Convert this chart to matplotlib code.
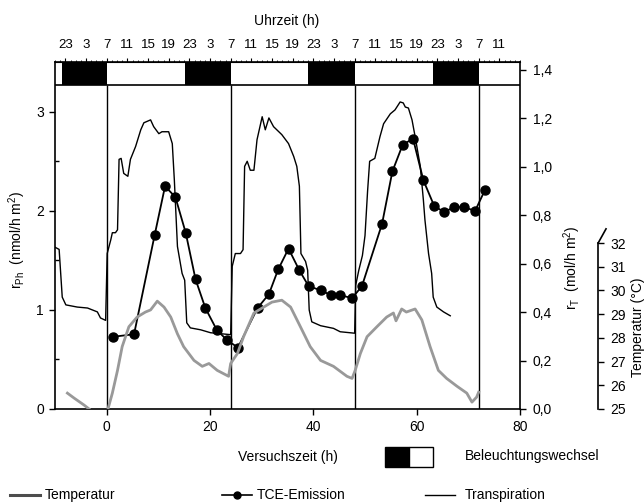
import matplotlib
matplotlib.use('Agg')
import matplotlib.pyplot as plt
import numpy as np
from matplotlib.lines import Line2D
from matplotlib.patches import Rectangle

plt.rcParams['font.family'] = ['Liberation Sans Narrow', 'Liberation Sans', 'DejaVu Sans']
plt.rcParams['mathtext.fontset'] = 'custom'
plt.rcParams['mathtext.rm'] = 'Liberation Sans'
plt.rcParams['mathtext.it'] = 'Liberation Sans:italic'
plt.rcParams['font.size'] = 10

# TCE-Emission r_Ph (nmol/h m2)
t_tce = [1.3, 5.3, 9.3, 11.3, 13.3, 15.3, 17.2, 19.1, 21.3, 23.2, 25.4, 29.2, 31.4, 33.2,
         35.2, 37.3, 39.1, 41.4, 43.4, 45.2, 47.5, 49.4, 53.3, 55.3, 57.3, 59.3, 61.3,
         63.4, 65.3, 67.3, 69.2, 71.3, 73.2]
r_ph = [0.73, 0.755, 1.76, 2.25, 2.14, 1.78, 1.31, 1.02, 0.80, 0.70, 0.62, 1.02, 1.16, 1.41,
        1.62, 1.40, 1.24, 1.20, 1.15, 1.15, 1.12, 1.24, 1.87, 2.40, 2.67, 2.73, 2.31,
        2.05, 1.99, 2.04, 2.04, 2.00, 2.21]

# Transpiration r_T (mol/h m2)
t_tr = [-9.9, -9.2, -8.6, -7.9, -5.7, -3.7, -1.8, -1.2, -0.2,
        0.1, 0.8, 1.1, 1.7, 2.1, 2.4, 2.8, 3.3, 4.1, 4.6, 5.6, 6.6, 7.2, 8.5, 9.1, 10.1,
        10.7, 12.0, 12.7, 13.1, 13.7, 14.6, 15.1, 15.5, 16.2, 18.2, 20.1, 24.0,
        24.3, 24.9, 25.9, 26.4, 26.7, 27.2, 27.8, 28.5, 29.1, 30.1, 30.7, 31.4, 32.3,
        33.9, 35.2, 36.2, 36.8, 37.3, 37.6, 38.5, 38.9, 39.2, 39.7, 41.4, 43.9, 45.2, 48.0,
        48.2, 48.8, 49.5, 50.0, 50.5, 50.9, 51.9, 52.9, 53.6, 54.9, 55.8, 56.8, 57.4,
        57.8, 58.4, 59.1, 59.7, 60.7, 61.3, 61.6, 62.3, 62.9, 63.2, 63.9, 65.2, 66.5]
r_t = [0.667, 0.659, 0.462, 0.430, 0.421, 0.417, 0.401, 0.376, 0.366,
       0.642, 0.699, 0.728, 0.728, 0.740, 1.031, 1.035, 0.973, 0.961, 1.031, 1.084, 1.153,
       1.182, 1.194, 1.166, 1.137, 1.145, 1.145, 1.096, 0.945, 0.671, 0.560, 0.532, 0.356,
       0.335, 0.327, 0.315, 0.307,
       0.589, 0.642, 0.642, 0.658, 1.002, 1.023, 0.986, 0.986, 1.112, 1.207, 1.153, 1.202,
       1.166, 1.133, 1.096, 1.043, 1.002, 0.920, 0.642, 0.609, 0.573, 0.409, 0.360, 0.344,
       0.333, 0.319, 0.313,
       0.511, 0.573, 0.634, 0.716, 0.900, 1.023, 1.035, 1.125, 1.178, 1.219, 1.235, 1.268,
       1.264, 1.247, 1.243, 1.194, 1.125, 1.002, 0.863, 0.781, 0.642, 0.560, 0.462, 0.421,
       0.401, 0.385]

# Temperatur (°C)
t_temp = [-7.6, -6.3, -4.4, -3.4, np.nan, 0.25, 1.1, 2.1, 3.0, 4.3, 5.9, 7.5, 8.5, 9.8,
          11.1, 12.4, 13.7, 14.9, 16.9, 18.5, 19.8, 21.4, 23.6, 24.0, 25.3, 26.5, 28.5,
          30.4, 32.0, 33.9, 35.6, 37.5, 39.4, 41.4, 43.9, 46.5, 47.5, 48.1, 49.1, 50.4,
          52.3, 54.2, 55.5, 56.0, 57.1, 58.0, 59.7, 61.0, 62.6, 64.2, 65.8, 67.8, 69.7,
          70.7, 71.6, 72.0]
temp = [25.67, 25.46, 25.17, 25.0, np.nan, 25.0, 25.67, 26.63, 27.63, 28.47, 28.88, 29.09,
        29.18, 29.55, 29.30, 28.88, 28.17, 27.63, 27.05, 26.80, 26.92, 26.63, 26.38, 26.92,
        27.34, 28.05, 29.05, 29.30, 29.51, 29.59, 29.30, 28.47, 27.63, 27.05, 26.80, 26.38,
        26.29, 26.63, 27.34, 28.05, 28.47, 28.88, 29.05, 28.72, 29.22, 29.09, 29.22, 28.76,
        27.63, 26.63, 26.29, 25.96, 25.67, 25.29, 25.50, 25.71]

# Beleuchtung
dark_start = [-8.6, 15.1, 38.9, 63.2]
dark_end = [0, 24, 48, 72]
light_change = [0, 24, 48, 72]
uhrzeit_pos = [-8, -4, 0, 4, 8, 12, 16, 20, 24, 28, 32, 36, 40, 44, 48, 52, 56, 60, 64, 68, 72, 76]
uhrzeit_labels = ['23', '3', '7', '11', '15', '19', '23', '3', '7', '11', '15', '19',
                  '23', '3', '7', '11', '15', '19', '23', '3', '7', '11']
rt_ticks = [0.0, 0.2, 0.4, 0.6, 0.8, 1.0, 1.2, 1.4]
rt_labels = ['0,0', '0,2', '0,4', '0,6', '0,8', '1,0', '1,2', '1,4']
temp_ticks = [25, 26, 27, 28, 29, 30, 31, 32]

W, H = 644, 503
def fx(px):
    return px / W
def fy(py):
    return 1 - py / H

fig = plt.figure(figsize=(6.44, 5.03), dpi=100)
ax = fig.add_axes([fx(55), fy(409), 465 / W, 347 / H])

ytop = 3.505
bar_bottom = 3.273
ax.set_xlim(-10, 80)
ax.set_ylim(0, ytop)

# Hauptachse
ax.plot(t_tce, r_ph, '-o', color='black', lw=1.3, markersize=6.5, zorder=5)
ax.vlines(light_change, 0, bar_bottom, color='black', lw=1.0)
ax.axhline(bar_bottom, color='black', lw=1.2)
ax.broken_barh([(s, e - s) for s, e in zip(dark_start, dark_end)],
               (bar_bottom, ytop - bar_bottom), facecolors='black')

ax.set_xticks([0, 20, 40, 60, 80])
ax.set_yticks([0, 1, 2, 3])
ax.set_yticks([0.5, 1.5, 2.5], minor=True)
ax.tick_params(axis='x', direction='out', length=4, width=1, pad=4, labelsize=10)
ax.tick_params(axis='y', which='major', direction='out', length=4, width=1, pad=4, labelsize=10)
ax.tick_params(axis='y', which='minor', direction='in', length=3, width=1)
for s in ax.spines.values():
    s.set_linewidth(1.2)

# obere Achse Uhrzeit
sec = ax.secondary_xaxis('top')
sec.set_xticks(uhrzeit_pos)
sec.set_xticklabels(uhrzeit_labels)
sec.set_xticks(np.arange(-10, 81, 1), minor=True)
sec.tick_params(which='major', direction='out', length=3, width=0.8, pad=5, labelsize=9.5)
sec.tick_params(which='minor', direction='out', length=1.5, width=0.6)

# rechte Achse Transpiration
axr = ax.twinx()
axr.set_ylim(0, 1.433)
axr.plot(t_tr, r_t, color='black', lw=1.0)
axr.set_yticks(rt_ticks)
axr.set_yticklabels(rt_labels)
axr.tick_params(direction='out', length=4, width=1, pad=5, labelsize=10)
for s in axr.spines.values():
    s.set_visible(False)

# Temperaturachse
axt = ax.twinx()
axt.set_ylim(25, 39.64)
axt.set_xlim(-10, 80)
axt.plot(t_temp, temp, color='0.6', lw=2.0, zorder=3)
for k, s in axt.spines.items():
    s.set_visible(k == 'right')
axt.spines['right'].set_position(('axes', 1.168))
axt.spines['right'].set_bounds(25, 32)
axt.spines['right'].set_linewidth(1.2)
axt.set_yticks(temp_ticks)
axt.tick_params(direction='out', length=4, width=1, pad=5, labelsize=10)
axt.plot([1.168, 1.185], [32, 32.6], color='black', lw=1.2, clip_on=False,
         transform=axt.get_yaxis_transform())

# Achsentitel
fig.text(fx(17), fy(240), r'r$_\mathrm{Ph}$  (nmol/h m$^\mathrm{2}$)', rotation=90,
         ha='center', va='center', fontsize=10)
fig.text(fx(572), fy(268), r'r$_\mathrm{T}$  (mol/h m$^\mathrm{2}$)', rotation=90,
         ha='center', va='center', fontsize=10)
fig.text(fx(638), fy(327), 'Temperatur (°C)', rotation=90, ha='center', va='center', fontsize=10)
fig.text(fx(287), fy(21), 'Uhrzeit (h)', ha='center', va='center', fontsize=10)
fig.text(fx(288), fy(457), 'Versuchszeit (h)', ha='center', va='center', fontsize=10)

# Legende Beleuchtung
fig.add_artist(Rectangle((fx(385), fy(467)), 24 / W, 20 / H, transform=fig.transFigure,
                         facecolor='black', edgecolor='black', lw=1))
fig.add_artist(Rectangle((fx(409), fy(467)), 24 / W, 20 / H, transform=fig.transFigure,
                         facecolor='white', edgecolor='black', lw=1))
fig.text(fx(465), fy(456), 'Beleuchtungswechsel', ha='left', va='center', fontsize=10)

# Legende Linien
ly = fy(495)
fig.add_artist(Line2D([fx(10), fx(40)], [ly, ly], color='0.3', lw=2.2, transform=fig.transFigure))
fig.text(fx(45), ly, 'Temperatur', ha='left', va='center', fontsize=10)
fig.add_artist(Line2D([fx(222), fx(237), fx(252)], [ly, ly, ly], color='black', lw=1.2,
                      marker='o', markersize=5, markevery=[1], transform=fig.transFigure))
fig.text(fx(257), ly, 'TCE-Emission', ha='left', va='center', fontsize=10)
fig.add_artist(Line2D([fx(425), fx(455)], [ly, ly], color='black', lw=1.0, transform=fig.transFigure))
fig.text(fx(465), ly, 'Transpiration', ha='left', va='center', fontsize=10)

fig.savefig('out.png', dpi=100)
